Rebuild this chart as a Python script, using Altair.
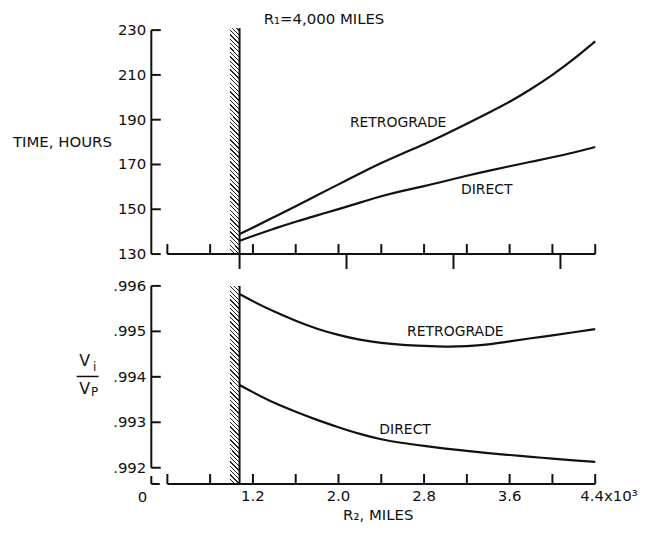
import altair as alt
import pandas as pd

# ---------------- data ----------------
r2 = [1.075, 1.2, 1.4, 1.6, 1.8, 2.0, 2.2, 2.4, 2.6, 2.8, 3.0, 3.2, 3.4, 3.6, 3.8, 4.0, 4.2, 4.4]
time_retro = [138.9, 141.8, 146.6, 151.3, 156.3, 161.1, 166.0, 170.7, 175.0, 179.0,
              183.5, 188.2, 193.0, 197.9, 203.6, 209.9, 217.0, 225.0]
time_direct = [135.9, 138.1, 141.4, 144.5, 147.3, 150.0, 153.0, 155.9, 158.3, 160.3,
               162.6, 165.0, 167.2, 169.2, 171.2, 173.2, 175.3, 177.8]
vel_retro = [0.99582, 0.99566, 0.99543, 0.99523, 0.99505, 0.99492, 0.99481, 0.99474, 0.99470,
             0.99468, 0.99466, 0.99467, 0.99471, 0.99478, 0.99485, 0.99491, 0.99498, 0.99505]
vel_direct = [0.99382, 0.99366, 0.99342, 0.99323, 0.99305, 0.99289, 0.99274, 0.99262, 0.99254,
              0.99248, 0.99242, 0.99237, 0.99232, 0.99228, 0.99224, 0.99220, 0.99216, 0.99213]
orbits = ["RETROGRADE", "DIRECT"]

time_ticks = [130, 150, 170, 190, 210, 230]
time_tick_labels = ["130", "150", "170", "190", "210", "230"]
vel_ticks = [0.992, 0.993, 0.994, 0.995, 0.996]
vel_tick_labels = [".992", ".993", ".994", ".995", ".996"]
minor_ticks = [0.4, 0.8, 1.2, 1.6, 2.0, 2.4, 2.8, 3.2, 3.6, 4.0, 4.4]
major_ticks_top = [1.075, 2.075, 3.075, 4.075]
x_label_values = [1.2, 2.0, 2.8, 3.6, 4.4]
x_labels = ["1.2", "2.0", "2.8", "3.6", "4.4x10\u00b3"]
moon_surface = 1.075      # wall (lunar radius, thousands of miles)
wall_inner = 0.985

# ---------------- styling ----------------
FONT = "DejaVu Sans"
INK = "#111111"
W = 446
H1 = 225
H2 = 199
xscale = alt.Scale(domain=[0.25, 4.4], nice=False, zero=False)
yscale1 = alt.Scale(domain=[130, 230], nice=False, zero=False)
yscale2 = alt.Scale(domain=[0.991643, 0.996], nice=False, zero=False)


def hatch_fill(wpx, hpx, period=4.4, ink=0.3):
    span = wpx + hpx
    stops = []
    k = 0
    while k * period < span:
        a = k * period / span
        b = min((k * period + ink * period) / span, 1.0)
        stops += [alt.GradientStop(color="white", offset=a),
                  alt.GradientStop(color="#222222", offset=a),
                  alt.GradientStop(color="#222222", offset=b),
                  alt.GradientStop(color="white", offset=b)]
        k += 1
    s = span / (wpx ** 2 + hpx ** 2)
    return alt.LinearGradient(gradient="linear", stops=stops,
                              x1=0, y1=1, x2=s * wpx, y2=1 - s * hpx)


one = pd.DataFrame({"k": [0]})


def text(t, x, y, size=15, align="center"):
    return alt.Chart(one).mark_text(text=t, font=FONT, fontSize=size, align=align,
                                    baseline="middle", color=INK).encode(
        x=alt.value(x), y=alt.value(y))


def panel(yvals_retro, yvals_direct, yscale, height, yticks, ylabels, top):
    n = len(r2)
    df = pd.DataFrame({"R": r2 * 2, "val": yvals_retro + yvals_direct,
                       "orbit": [orbits[0]] * n + [orbits[1]] * n})
    curves = alt.Chart(df).mark_line(color=INK, strokeWidth=2.2, interpolate="basis").encode(
        x=alt.X("R:Q", scale=xscale, axis=None),
        y=alt.Y("val:Q", scale=yscale, axis=None),
        detail="orbit:N")

    wall_df = pd.DataFrame({"a": [wall_inner], "b": [moon_surface]})
    top_y = -2 if top else 0
    wall = alt.Chart(wall_df).mark_rect(
        fill=hatch_fill(9.7, height - top_y), strokeWidth=0).encode(
        x=alt.X("a:Q", axis=None), x2="b:Q", y=alt.value(top_y), y2=alt.value(height))
    wall_line = alt.Chart(wall_df).mark_rule(color=INK, strokeWidth=2).encode(
        x=alt.X("b:Q", axis=None), y=alt.value(top_y), y2=alt.value(height))

    tick_df = pd.DataFrame({"v": yticks, "lab": ylabels})
    span_df = pd.DataFrame({"lo": [min(yticks)], "hi": [max(yticks)]})
    yline = alt.Chart(span_df).mark_rule(color=INK, strokeWidth=2).encode(
        x=alt.value(0), y=alt.Y("lo:Q", axis=None), y2="hi:Q")
    yt = alt.Chart(tick_df).mark_rule(color=INK, strokeWidth=2).encode(
        y=alt.Y("v:Q", axis=None), x=alt.value(0), x2=alt.value(9.5))
    ylab = alt.Chart(tick_df).mark_text(font=FONT, fontSize=15, align="right",
                                        baseline="middle", color=INK).encode(
        y=alt.Y("v:Q", axis=None), x=alt.value(-5), text="lab:N")

    xs_df = pd.DataFrame({"lo": [min(minor_ticks)], "hi": [max(minor_ticks)]})
    xline = alt.Chart(xs_df).mark_rule(color=INK, strokeWidth=2).encode(
        x=alt.X("lo:Q", axis=None), x2="hi:Q", y=alt.value(height))
    xt = alt.Chart(pd.DataFrame({"v": minor_ticks})).mark_rule(color=INK, strokeWidth=2).encode(
        x=alt.X("v:Q", axis=None), y=alt.value(height - 10), y2=alt.value(height))

    layers = [curves, wall, wall_line, yline, yt, ylab, xline, xt]
    if top:
        xd = alt.Chart(pd.DataFrame({"v": major_ticks_top})).mark_rule(color=INK, strokeWidth=2).encode(
            x=alt.X("v:Q", axis=None), y=alt.value(height), y2=alt.value(height + 15))
        layers += [xd,
                   text("R\u2081=4,000 MILES", 173.5, -11.5),
                   text("TIME, HOURS", -139, 112, align="left"),
                   text("RETROGRADE", 248, 93.5, size=14),
                   text("DIRECT", 337, 160.5, size=14)]
    else:
        xlab_df = pd.DataFrame({"v": x_label_values, "lab": x_labels})
        xl = alt.Chart(xlab_df.iloc[:-1]).mark_text(
            font=FONT, fontSize=15, align="center", baseline="middle", color=INK).encode(
            x=alt.X("v:Q", axis=None), y=alt.value(height + 12.5), text="lab:N")
        xl_last = alt.Chart(xlab_df.iloc[-1:]).mark_text(
            font=FONT, fontSize=15, align="left", baseline="middle", color=INK, dx=-15).encode(
            x=alt.X("v:Q", axis=None), y=alt.value(height + 12.5), text="lab:N")
        lpiece_v = alt.Chart(one).mark_rule(color=INK, strokeWidth=2).encode(
            x=alt.value(0), y=alt.value(height - 8), y2=alt.value(height))
        lpiece_h = alt.Chart(one).mark_rule(color=INK, strokeWidth=2).encode(
            x=alt.value(0), x2=alt.value(8.5), y=alt.value(height))
        bar = alt.Chart(one).mark_rule(color=INK, strokeWidth=1.5).encode(
            x=alt.value(-75), x2=alt.value(-53), y=alt.value(91))
        layers += [xl, xl_last, lpiece_v, lpiece_h, bar,
                   text("V", -67, 75, size=16),
                   text("i", -57, 82, size=12),
                   text("V", -67, 103.5, size=16),
                   text("P", -57, 106.5, size=12),
                   text("0", -9, 212.5),
                   text("R\u2082, MILES", 228, 230),
                   text("RETROGRADE", 305.5, 46, size=14),
                   text("DIRECT", 255, 144.5, size=14)]
    return alt.layer(*layers).properties(width=W, height=height)


top_panel = panel(time_retro, time_direct, yscale1, H1, time_ticks, time_tick_labels, True)
bottom_panel = panel(vel_retro, vel_direct, yscale2, H2, vel_ticks, vel_tick_labels, False)

chart = alt.vconcat(top_panel, bottom_panel, spacing=32, bounds="flush").configure_view(
    stroke=None).properties(
    padding={"left": 5, "top": 2, "right": 0, "bottom": 0}, background="white")

chart.save("out.html", embed_options={"renderer": "svg", "actions": False})
